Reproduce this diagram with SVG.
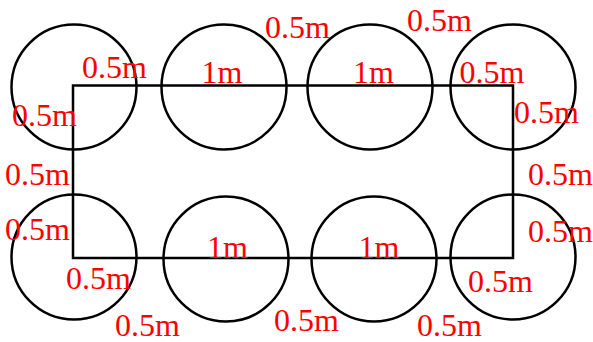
<svg xmlns="http://www.w3.org/2000/svg" width="593" height="342" viewBox="0 0 593 342">
<style>
.c{fill:none;stroke:#000;stroke-width:2.5}
.r{fill:none;stroke:#000;stroke-width:2.5}
text{font-family:"Liberation Serif","Times New Roman",serif;font-size:32px;fill:#ff0000}
</style>
<rect width="593" height="342" fill="#fff"/>
<g id="circles">
<g id="c1"><circle class="c" cx="74" cy="87" r="62.5"/></g>
<g id="c2"><circle class="c" cx="224" cy="87" r="62.5"/></g>
<g id="c3"><circle class="c" cx="370" cy="87" r="62.5"/></g>
<g id="c4"><circle class="c" cx="513" cy="87" r="62.5"/></g>
<g id="c5"><circle class="c" cx="74" cy="257" r="62.5"/></g>
<g id="c6"><circle class="c" cx="226" cy="259" r="62.5"/></g>
<g id="c7"><circle class="c" cx="374" cy="259" r="62.5"/></g>
<g id="c8"><circle class="c" cx="513" cy="257" r="62.5"/></g>
</g>
<g id="rect"><rect class="r" x="73" y="85.5" width="440" height="172.5"/></g>
<g id="labels">
<text x="82" y="78">0.5m</text>
<text x="12" y="126">0.5m</text>
<text x="201.5" y="82.5">1m</text>
<text x="265" y="37.5">0.5m</text>
<text x="407" y="31">0.5m</text>
<text x="353" y="82.5">1m</text>
<text x="459.5" y="82.5">0.5m</text>
<text x="514" y="122.5">0.5m</text>
<text x="528" y="184.5">0.5m</text>
<text x="528" y="242">0.5m</text>
<text x="468" y="291.5">0.5m</text>
<text x="417" y="336">0.5m</text>
<text x="358.5" y="258">1m</text>
<text x="274" y="330.5">0.5m</text>
<text x="207" y="258">1m</text>
<text x="66" y="288.5">0.5m</text>
<text x="115" y="336">0.5m</text>
<text x="5" y="240">0.5m</text>
<text x="5" y="184.5">0.5m</text>
</g>
</svg>
